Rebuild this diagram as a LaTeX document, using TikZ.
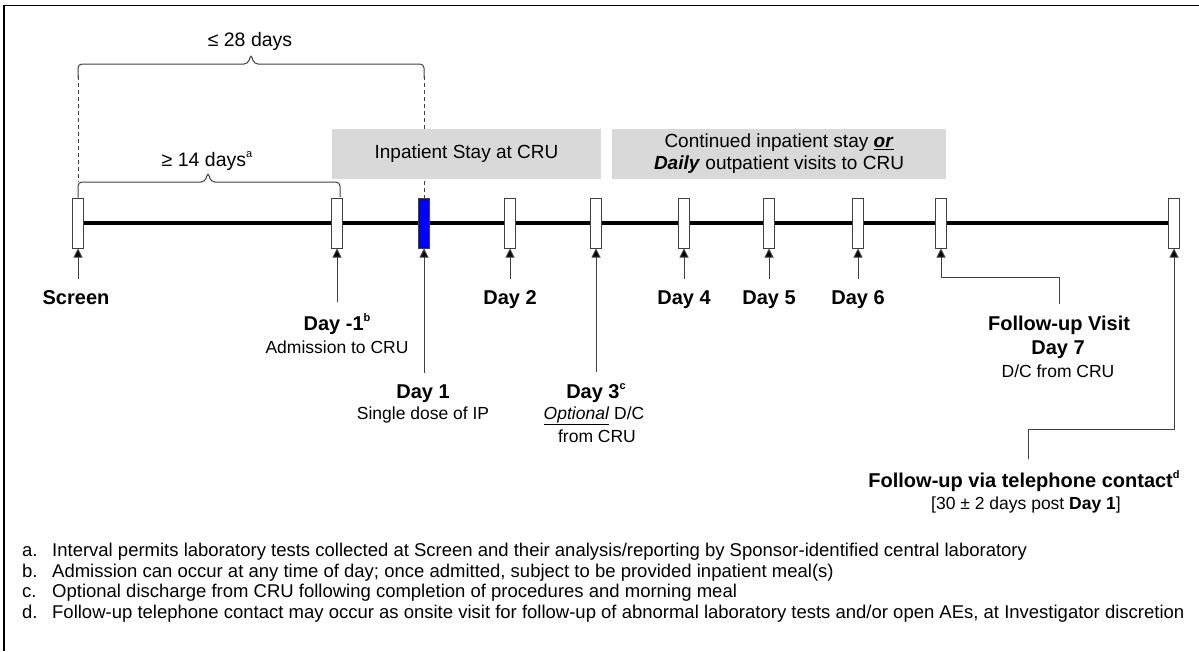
\documentclass[tikz,border=0pt]{standalone}
\usepackage{fontspec}
\setmainfont{Liberation Sans}
\usetikzlibrary{arrows.meta, positioning, backgrounds}

\definecolor{boxgray}{HTML}{D9D9D9}
\definecolor{linegray}{HTML}{404040}
\definecolor{dosblue}{HTML}{0000FF}
\newcommand{\supmark}[1]{\raisebox{0.42em}{\fontsize{11}{11}\selectfont #1}}

\begin{document}
\begin{tikzpicture}[x=1pt, y=-1pt,
    daybar/.style={rectangle, draw=linegray, line width=1pt, fill=white, minimum width=10.5pt, minimum height=50pt, inner sep=0pt},
    daylbl/.style={font=\fontsize{20}{24}\selectfont\bfseries, anchor=base, inner sep=0pt},
    sublbl/.style={font=\fontsize{17.5}{21}\selectfont, anchor=base, inner sep=0pt},
    graybox/.style={rectangle, fill=boxgray, minimum height=50pt, inner sep=0pt, font=\fontsize{19}{22}\selectfont, align=center},
    uparrow/.style={draw=linegray, line width=1pt, -{Triangle[width=9pt, length=9pt, fill=black]}, shorten <=11pt},
    brace/.style={draw=linegray, line width=1pt, rounded corners=4pt},
    guide/.style={draw=linegray, line width=1pt, dash pattern=on 4pt off 3pt},
    note/.style={font=\fontsize{18.5}{21}\selectfont, anchor=base west, inner sep=0pt}]
    \useasboundingbox (0,0) rectangle (1199,651);
    % frame
    \draw[line width=1.5pt] (4,651) -- (4,5.5) -- (1199,5.5);

    % day bars
    \node[daybar] (scr) at (78,223) {};
    \node[daybar] (dm1) at (337,223) {};
    \node[daybar, fill=dosblue] (d1) at (424,223) {};
    \node[daybar] (d2) at (510,223) {};
    \node[daybar] (d3) at (596,223) {};
    \node[daybar] (d4) at (684,223) {};
    \node[daybar] (d5) at (769,223) {};
    \node[daybar] (d6) at (858,223) {};
    \node[daybar] (d7) at (941,223) {};
    \node[daybar] (fu) at (1174,223) {};

    % timeline behind the bars
    \begin{scope}[on background layer]
        \draw[line width=4.5pt] (scr.center) -- (fu.center);
    \end{scope}

    % interval brackets
    \draw[guide] (78,76) -- (78,182);
    \draw[guide] (424,76) -- (d1.north);
    \draw[brace] (78,78) -- (78,64) -- (248,64) -- (251,54) -- (254,64) -- (424,64) -- (424,78);
    \draw[brace] (scr.north) -- (78,182) -- (205,182) -- (208,172) -- (211,182) -- (340,182) -- (340,197);
    \node[daylbl, font=\fontsize{19.5}{23}\selectfont] (l28) at (250,46) {≤ 28 days};
    \node[daylbl, font=\fontsize{19.5}{23}\selectfont] (l14) at (207,166) {≥ 14 days\supmark{a}};

    % stay boxes
    \node[graybox, minimum width=269pt] (inbox) at (466.5,154) {Inpatient Stay at CRU};
    \node[graybox, minimum width=334pt] (contbox) at (779,154) {Continued inpatient stay \underline{\textbf{\textit{or}}}\\\textbf{\textit{Daily}} outpatient visits to CRU};

    % labels
    \node[daylbl] (lscr) at (76,304) {Screen};
    \node[daylbl] (ldm1) at (337,330) {Day -1\supmark{b}};
    \node[sublbl] (ladm) at (337,353) {Admission to CRU};
    \node[daylbl] (ld1) at (423,398) {Day 1};
    \node[sublbl] (ldose) at (423,419) {Single dose of IP};
    \node[daylbl] (ld2) at (510,304) {Day 2};
    \node[daylbl] (ld3) at (596,398) {Day 3\supmark{c}};
    \node[sublbl] (lopt) at (594,419) {\underline{\textit{Optional}} D/C};
    \node[sublbl] (lfrom) at (597,442) {from CRU};
    \node[daylbl] (ld4) at (684,304) {Day 4};
    \node[daylbl] (ld5) at (769,304) {Day 5};
    \node[daylbl] (ld6) at (858,304) {Day 6};
    \node[daylbl] (lfv) at (1059,330) {Follow-up Visit};
    \node[daylbl] (ld7) at (1058,354) {Day 7};
    \node[sublbl] (ldc) at (1058,377) {D/C from CRU};
    \node[daylbl] (ltel) at (1024,487) {Follow-up via telephone contact\supmark{d}};
    \node[sublbl] (lpost) at (1026,509) {[30 ± 2 days post \textbf{Day 1}]};

    % arrows
    \draw[uparrow] (lscr.north -| scr.south) -- (scr.south);
    \draw[uparrow] (ldm1.north -| dm1.south) -- (dm1.south);
    \draw[uparrow] (ld1.north -| d1.south) -- (d1.south);
    \draw[uparrow] (ld2.north -| d2.south) -- (d2.south);
    \draw[uparrow] (ld3.north -| d3.south) -- (d3.south);
    \draw[uparrow] (ld4.north -| d4.south) -- (d4.south);
    \draw[uparrow] (ld5.north -| d5.south) -- (d5.south);
    \draw[uparrow] (ld6.north -| d6.south) -- (d6.south);
    \coordinate (bend7) at (1059,277);
    \draw[uparrow] (lfv.north -| bend7) -- (bend7) -| (d7.south);
    \coordinate (bendfu) at (1028,429);
    \draw[uparrow] (ltel.north -| bendfu) -- (bendfu) -| (fu.south);

    % footnotes
    \node[note] (fna) at (22,556.5) {\makebox[30pt][l]{a.}Interval permits laboratory tests collected at Screen and their analysis/reporting by Sponsor-identified central laboratory};
    \node[note] (fnb) at (22,577.2) {\makebox[30pt][l]{b.}Admission can occur at any time of day; once admitted, subject to be provided inpatient meal(s)};
    \node[note] (fnc) at (22,597.9) {\makebox[30pt][l]{c.}Optional discharge from CRU following completion of procedures and morning meal};
    \node[note] (fnd) at (22,618.6) {\makebox[30pt][l]{d.}Follow-up telephone contact may occur as onsite visit for follow-up of abnormal laboratory tests and/or open AEs, at Investigator discretion};
\end{tikzpicture}
\end{document}
